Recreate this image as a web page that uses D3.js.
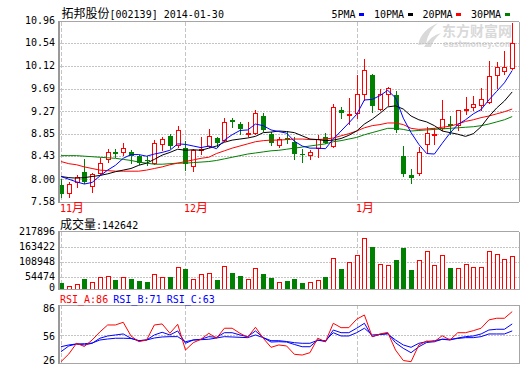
<!DOCTYPE html>
<html><head><meta charset="utf-8">
<script src="https://cdn.jsdelivr.net/npm/d3@7/dist/d3.min.js"></script>
<style>html,body{margin:0;padding:0;background:#fff;overflow:hidden}</style>
</head><body>
<svg id="c" width="520" height="365" xmlns="http://www.w3.org/2000/svg"></svg>
<script>
// ---------- DATA ----------
const titleName = "拓邦股份";
const titleCode = "[002139]";
const titleDate = "2014-01-30";
const maNames = ["5PMA", "10PMA", "20PMA", "30PMA"];
const monthLabels = ["11月", "12月", "1月"];
const monthStart = [0, 16, 38];
const priceTicks = [7.58, 8.00, 8.43, 8.85, 9.27, 9.69, 10.12, 10.54, 10.96];
const volTicks = [0, 54474, 108948, 163422, 217896];
const rsiTicks = [26, 56, 86];
const volTitle = "成交量";
const volNow = 142642;
const rsiNames = ["RSI_A", "RSI_B", "RSI_C"];
const rsiNow = [86, 71, 63];

const openP = [7.89,7.74,7.94,8.14,7.88,8.11,8.37,8.51,8.51,8.51,
  8.43,8.35,8.30,8.65,8.81,8.64,8.58,8.24,8.55,8.62,
  8.77,8.73,9.11,9.04,8.85,8.87,9.18,8.85,8.63,8.77,
  8.70,8.48,8.45,8.58,8.78,8.62,9.29,9.19,9.23,9.59,
  9.95,9.31,9.59,9.57,8.43,8.08,8.11,8.66,8.82,8.95,
  9.03,9.01,9.29,9.34,9.39,9.45,9.95,10.03,10.07];
const highP = [8.00,7.95,8.07,8.37,8.11,8.39,8.57,8.56,8.67,8.54,
  8.45,8.43,8.73,8.78,8.85,8.99,8.71,8.56,8.79,8.93,
  8.79,9.14,9.14,9.07,9.06,9.29,9.23,8.89,8.79,8.90,
  8.79,8.57,8.55,8.83,8.87,9.40,9.34,9.51,9.95,10.24,
  9.97,9.68,9.73,9.65,8.62,8.19,8.61,8.98,8.95,9.47,
  9.18,9.30,9.53,9.55,9.70,10.21,10.19,10.39,10.92];
const lowP = [7.66,7.67,7.86,7.92,7.77,8.10,8.32,8.41,8.45,8.30,
  8.28,8.26,8.29,8.54,8.59,8.61,8.17,8.15,8.47,8.60,
  8.60,8.71,8.98,8.85,8.81,8.85,8.90,8.64,8.60,8.68,
  8.37,8.33,8.37,8.42,8.67,8.61,9.14,9.04,9.14,9.48,
  9.26,9.30,9.39,8.89,8.06,7.92,8.08,8.51,8.66,8.92,
  8.85,8.92,9.22,9.29,9.29,9.43,9.70,9.96,10.06];
const closeP = [7.72,7.91,8.04,7.94,8.09,8.30,8.50,8.48,8.59,8.43,
  8.31,8.34,8.67,8.75,8.62,8.92,8.28,8.55,8.57,8.80,
  8.67,9.07,9.06,8.93,8.86,9.23,8.92,8.68,8.76,8.73,
  8.48,8.45,8.50,8.76,8.68,9.34,9.24,9.21,9.59,10.04,
  9.37,9.59,9.70,8.92,8.10,8.02,8.51,8.86,8.84,9.12,
  8.99,9.29,9.32,9.40,9.49,9.92,10.09,10.09,10.55];
const volume = [28900,16200,22100,43400,30600,51900,56200,40400,51900,44700,
  36200,31900,64700,51900,53200,94500,87200,43400,64700,68900,
  40400,98700,70200,57500,43400,90200,66000,48900,30600,36200,
  44700,27700,30600,39200,53200,132800,87200,115800,145500,217896,
  180900,107200,103000,125500,176600,83000,124300,162600,103000,146800,
  91500,90200,107200,94500,94500,162600,151100,128500,142642];
const ma5 = [8.05,8.00,7.95,7.91,7.94,8.06,8.17,8.26,8.39,8.46,
  8.46,8.43,8.47,8.50,8.54,8.66,8.65,8.62,8.59,8.62,
  8.57,8.73,8.83,8.91,8.92,9.03,9.00,8.92,8.89,8.86,
  8.71,8.62,8.58,8.58,8.57,8.75,8.90,9.05,9.21,9.48,
  9.49,9.56,9.66,9.52,9.14,8.87,8.65,8.48,8.47,8.67,
  8.86,9.02,9.11,9.22,9.30,9.48,9.64,9.80,10.03];
const ma10 = [8.05,8.03,8.02,8.03,8.05,8.07,8.10,8.14,8.17,8.20,
  8.26,8.30,8.37,8.45,8.50,8.56,8.54,8.55,8.54,8.58,
  8.62,8.69,8.73,8.75,8.77,8.80,8.87,8.88,8.90,8.89,
  8.87,8.81,8.75,8.74,8.72,8.73,8.76,8.82,8.90,9.03,
  9.12,9.23,9.35,9.37,9.31,9.18,9.11,9.07,9.00,8.90,
  8.87,8.84,8.80,8.85,8.98,9.17,9.33,9.46,9.63];
const ma20 = [8.33,8.29,8.27,8.23,8.20,8.17,8.16,8.15,8.15,8.15,
  8.15,8.17,8.20,8.23,8.27,8.30,8.33,8.36,8.39,8.41,
  8.48,8.53,8.58,8.62,8.66,8.70,8.72,8.73,8.73,8.74,
  8.75,8.75,8.74,8.74,8.75,8.77,8.81,8.85,8.90,8.96,
  9.00,9.02,9.05,9.05,9.02,8.95,8.93,8.94,8.95,8.97,
  8.99,9.03,9.08,9.11,9.15,9.18,9.22,9.26,9.31];
const ma30 = [8.44,8.44,8.44,8.43,8.42,8.41,8.40,8.39,8.37,8.35,
  8.32,8.30,8.28,8.28,8.29,8.30,8.30,8.31,8.32,8.33,
  8.35,8.38,8.41,8.44,8.47,8.49,8.51,8.53,8.54,8.56,
  8.58,8.60,8.62,8.64,8.66,8.70,8.72,8.75,8.78,8.83,
  8.87,8.91,8.95,8.95,8.93,8.90,8.91,8.92,8.93,8.94,
  8.95,8.96,8.97,8.98,9.00,9.03,9.07,9.11,9.17];
const rsiA = [26.5,35.6,48.4,44.6,52.3,61.9,70.2,70.2,73.4,57.1,
  50.3,52.3,70.2,71.4,60.3,71.0,40.4,49.1,53.2,60.3,
  54.4,66.3,66.3,60.3,55.5,67.5,54.4,43.6,46.4,45.2,
  35.3,34.4,37.2,54.4,50.3,72.2,67.0,67.0,77.0,82.1,
  56.3,59.5,61.3,40.4,27.9,26.5,46.4,51.1,50.3,57.4,
  52.3,61.0,61.0,63.4,66.3,76.2,78.2,78.2,86.1];
const rsiB = [38.4,45.2,47.6,46.4,48.4,54.4,57.1,58.3,59.5,54.4,
  51.5,52.3,58.3,61.5,58.3,63.1,48.4,52.3,53.2,56.3,
  55.5,61.0,61.0,58.3,56.3,63.1,55.1,49.9,50.3,49.9,
  47.0,44.3,44.3,52.3,50.3,64.2,61.0,61.0,66.3,72.2,
  56.3,58.9,60.3,49.1,42.4,37.2,44.3,49.3,50.3,53.2,
  52.3,54.7,56.3,57.1,59.5,64.2,65.1,65.1,71.4];
const rsiC = [44.3,46.4,47.6,47.9,48.7,52.3,53.5,54.4,54.4,54.1,
  51.5,52.3,54.7,55.9,56.3,56.3,50.3,52.3,52.7,53.2,
  54.7,56.3,55.9,55.5,55.1,58.3,55.1,51.5,51.5,50.5,
  49.1,48.4,48.4,52.0,51.5,61.0,57.1,57.1,61.0,66.3,
  58.3,58.9,59.5,52.3,46.4,43.6,48.4,50.3,51.5,53.2,
  53.2,54.1,55.1,55.1,56.3,59.5,59.5,59.5,63.1];

// ---------- STYLE ----------
const RED = "#ff0000", GREEN = "#008000", BLUE = "#0000ff", BLACK = "#000000";
const maColors = [BLUE, BLACK, RED, GREEN];
const rsiColors = [RED, BLUE, BLUE];
const MONO = "'DejaVu Sans Mono', monospace";
const CJK = "'Noto Sans CJK SC', sans-serif";
const FRAME = "#a6a6a6", GRID = "#c4c4c4";

const svg = d3.select("#c");
const L = 59, R = 519;
const main = {top: 21.5, bot: 202};
const vol = {top: 231.5, bot: 289.5};
const rsi = {top: 305, bot: 363.5};

const n = closeP.length;
const x = d3.scaleLinear().domain([0, n - 1]).range([61, 512.2]);
const yP = d3.scaleLinear().domain([7.58, 10.96]).range([201.7, 20.7]);
const yV = d3.scaleLinear().domain([0, 217896]).range([289.5, 238.3]);
const yVAxis = d3.scaleLinear().domain([0, 217896]).range([291.7, 231.7]);
const yR = d3.scaleLinear().domain([26, 86]).range([362.1, 311.7]);
const yRAxis = d3.scaleLinear().domain([26, 86]).range([365, 305]);

function mixed(g, px, py, str, color, cjkSize, monoSize, weight) {
  const t = g.append("text").attr("x", px).attr("y", py).attr("fill", color);
  const runs = str.match(/[\x00-\x7f]+|[^\x00-\x7f]+/g) || [];
  runs.forEach(r => {
    const ascii = /^[\x00-\x7f]+$/.test(r);
    t.append("tspan").text(r)
      .style("font-family", ascii ? MONO : CJK)
      .style("font-size", (ascii ? monoSize : cjkSize) + "px")
      .style("font-weight", weight || "normal")
      .attr("xml:space", "preserve").style("white-space", "pre");
  });
  return t;
}

// ---------- watermark ----------
const wm = svg.append("g").attr("fill", "#d9d9d9");
wm.append("path").attr("d", "M418,45 Q421,30 438,23 Q428,31 426,44 Z");
wm.append("path").attr("d", "M424,47 Q430,36 441,33 Q433,40 431,47 Z");
wm.append("text").attr("x", 442).attr("y", 35.5).text("东方财富网")
  .style("font-family", CJK).style("font-size", "14px").style("font-weight", "bold");
wm.append("text").attr("x", 443).attr("y", 46.5).text("eastmoney.com")
  .attr("textLength", 70).attr("lengthAdjust", "spacingAndGlyphs")
  .style("font-family", "'DejaVu Sans', sans-serif").style("font-size", "8.5px").style("font-weight", "bold");

// ---------- grids & frames ----------
const grid = svg.append("g").attr("shape-rendering", "crispEdges");
function hline(y, dash, color) {
  grid.append("line").attr("x1", L).attr("x2", R).attr("y1", y).attr("y2", y)
    .attr("stroke", color).attr("stroke-width", 1).attr("stroke-dasharray", dash || null);
}
priceTicks.slice(1, -1).forEach(t => hline(Math.round(yP(t)) + 0.5, "2,1", GRID));
volTicks.slice(1, -1).forEach(t => hline(Math.round(yVAxis(t)) + 0.5, "2,1", GRID));
hline(Math.round(yRAxis(56)) + 0.5, "2,1", GRID);

// month dashed lines
[main, vol, rsi].forEach(p => {
  monthStart.forEach(i => {
    const xx = Math.round(x(i)) + 0.5;
    grid.append("line").attr("x1", xx).attr("x2", xx).attr("y1", p.top).attr("y2", p.bot)
      .attr("stroke", GRID).attr("stroke-dasharray", "4,2");
  });
});
// frames
[main, vol, rsi].forEach(p => {
  hline(p.top, null, FRAME);
  hline(p.bot, null, FRAME);
  grid.append("line").attr("x1", R).attr("x2", R).attr("y1", p.top).attr("y2", p.bot).attr("stroke", FRAME);
  grid.append("line").attr("x1", L).attr("x2", L).attr("y1", p.top - 0.5).attr("y2", p.bot + 0.5)
    .attr("stroke", "#999").attr("stroke-width", 2);
});

// ---------- axis labels ----------
const lab = svg.append("g").style("font-family", MONO).style("font-size", "10px").attr("fill", BLACK)
  .attr("text-anchor", "end");
priceTicks.forEach(t => lab.append("text").attr("x", 55).attr("y", yP(t) + 3.3).text(t.toFixed(2)));
volTicks.forEach(t => lab.append("text").attr("x", 55).attr("y", Math.min(yVAxis(t) + 3.6, 290.5)).text(String(t)));
rsiTicks.forEach(t => lab.append("text").attr("x", 55)
  .attr("y", Math.max(Math.min(yRAxis(t) + 4.5, 364), rsi.top + 6.5)).text(String(t)));

// month labels
monthLabels.forEach((m, k) => mixed(svg, Math.round(x(monthStart[k])) - 1, 212, m, RED, 12, 10));

// ---------- header texts ----------
mixed(svg, 61.5, 18, titleName + titleCode + " " + titleDate, BLACK, 12, 10);
let lx = 331.5;
maNames.forEach((nm, k) => {
  svg.append("text").attr("x", lx).attr("y", 17.5).text(nm)
    .style("font-family", MONO).style("font-size", "10px").attr("fill", BLACK);
  const sx = lx + nm.length * 6 + 3.5;
  svg.append("rect").attr("x", Math.round(sx)).attr("y", 12.5).attr("width", 5).attr("height", 3)
    .attr("fill", maColors[k]).attr("shape-rendering", "crispEdges");
  lx = sx + 15;
});
mixed(svg, 60, 229, volTitle + ":" + volNow, BLACK, 12, 10);
const rsiX = [60, 113.3, 166.7];
rsiNames.forEach((nm, k) => {
  svg.append("text").attr("x", rsiX[k]).attr("y", 303).text(nm + ":" + rsiNow[k])
    .style("font-family", MONO).style("font-size", "10px").attr("fill", rsiColors[k]);
});

// ---------- clips ----------
const defs = svg.append("defs");
[["cm", main], ["cv", vol], ["cr", rsi]].forEach(([id, p]) => {
  defs.append("clipPath").attr("id", id).append("rect")
    .attr("x", L + 1).attr("y", p.top + 0.5).attr("width", R - L - 1.5).attr("height", p.bot - p.top - 1);
});

// ---------- candles ----------
const cg = svg.append("g").attr("clip-path", "url(#cm)").attr("shape-rendering", "crispEdges");
d3.range(n).forEach(i => {
  const cx = Math.round(x(i));
  const up = closeP[i] >= openP[i];
  const col = up ? RED : GREEN;
  const yo = Math.round(yP(openP[i])), yc = Math.round(yP(closeP[i]));
  const yh = Math.round(yP(highP[i])), yl = Math.round(yP(lowP[i]));
  const top = Math.min(yo, yc), bot = Math.max(yo, yc);
  cg.append("line").attr("x1", cx + 0.5).attr("x2", cx + 0.5).attr("y1", yh).attr("y2", yl + 1)
    .attr("stroke", col).attr("stroke-width", 1);
  if (up) {
    cg.append("path").attr("d", `M${cx - 1.5},${top + 0.5}H${cx + 2.5}V${bot + 0.5}H${cx - 1.5}Z`)
      .attr("fill", "#fff").attr("stroke", col).attr("stroke-width", 1);
  } else {
    cg.append("rect").attr("x", cx - 2).attr("y", top).attr("width", 5)
      .attr("height", Math.max(bot - top, 1)).attr("fill", col);
  }
});

// ---------- MA lines ----------
const mg = svg.append("g").attr("clip-path", "url(#cm)");
const maLine = d3.line().x((d, i) => x(i)).y(d => yP(d));
[ma30, ma20, ma10, ma5].forEach((arr, k) => {
  mg.append("path").attr("d", maLine(arr)).attr("fill", "none")
    .attr("stroke", [GREEN, RED, BLACK, BLUE][k]).attr("stroke-width", 1);
});

// ---------- volume ----------
const vg = svg.append("g").attr("clip-path", "url(#cv)").attr("shape-rendering", "crispEdges");
volume.forEach((v, i) => {
  const cx = Math.round(x(i));
  const up = closeP[i] >= openP[i];
  const top = Math.round(yV(v));
  const bot = 289;
  if (up) {
    vg.append("path").attr("d", `M${cx - 1.5},${top + 0.5}H${cx + 2.5}V${bot + 0.5}H${cx - 1.5}Z`)
      .attr("fill", "#fff").attr("stroke", RED).attr("stroke-width", 1);
  } else {
    vg.append("rect").attr("x", cx - 2).attr("y", top).attr("width", 5).attr("height", bot + 1 - top)
      .attr("fill", GREEN);
  }
});

// ---------- RSI ----------
const rg = svg.append("g").attr("clip-path", "url(#cr)");
const rLine = d3.line().x((d, i) => x(i)).y(d => yR(d));
[[rsiC, BLUE], [rsiB, BLUE], [rsiA, RED]].forEach(([arr, c]) => {
  rg.append("path").attr("d", rLine(arr)).attr("fill", "none").attr("stroke", c).attr("stroke-width", 1);
});
</script>
</body></html>
